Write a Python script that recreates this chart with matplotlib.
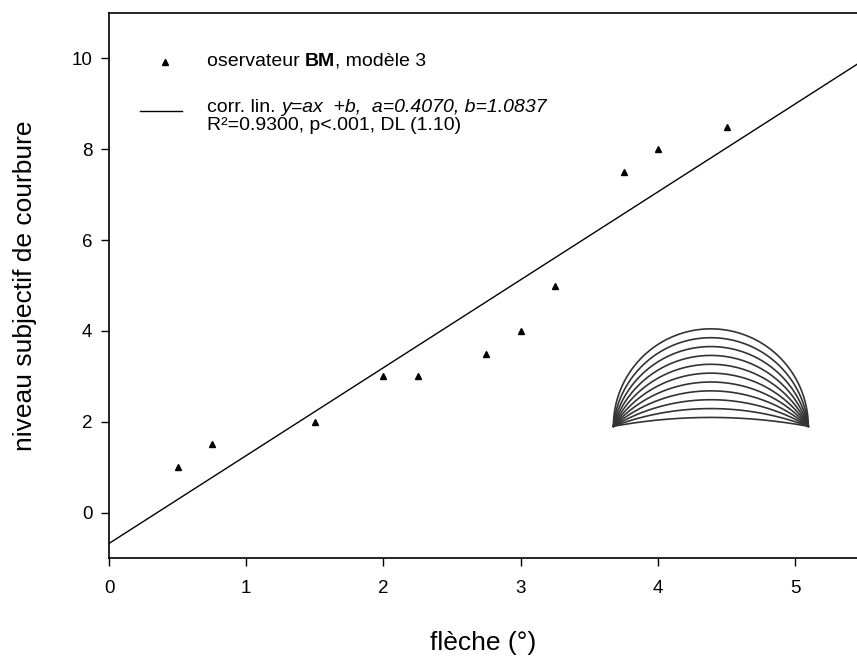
import numpy as np
import matplotlib
matplotlib.use("Agg")
import matplotlib.pyplot as plt

plt.rcParams['font.family'] = ['Liberation Sans', 'DejaVu Sans']

# donnees
fleche = [0.5, 0.75, 1.5, 2.0, 2.25, 2.75, 3.0, 3.25, 3.75, 4.0, 4.5]
niveau = [1.0, 1.5, 2.0, 3.0, 3.0, 3.5, 4.0, 5.0, 7.5, 8.0, 8.5]
droite_x = [0.0, 5.45]
droite_y = [-0.68, 9.87]
xticks = [0, 1, 2, 3, 4, 5]
yticks = [0, 2, 4, 6, 8, 10]
n_arcs = 11

fig = plt.figure(figsize=(8.57, 6.60), dpi=100)
ax = fig.add_axes([109 / 857, 1 - 558 / 660, 1 - 109 / 857, (558 - 13) / 660])
ax.set_xlim(0, 5.45)
ax.set_ylim(-1, 11)

ax.plot(droite_x, droite_y, color="black", lw=1.0)
ax.plot(fleche, niveau, linestyle="none", marker="^", color="black", markersize=5)

ax.set_xticks(xticks)
ax.set_yticks(yticks)
ax.tick_params(direction="out", length=6, width=1, labelsize=13.5)
ax.tick_params(axis="x", pad=9.5)
ax.tick_params(axis="y", pad=6)
ax.spines["right"].set_visible(False)
for s in ["left", "bottom", "top"]:
    ax.spines[s].set_linewidth(1.2)

ax.set_xlabel("flèche (°)", fontsize=19)
ax.set_ylabel("niveau subjectif de courbure", fontsize=19)
ax.xaxis.set_label_coords(0.5, (558 - 643) / 545)
ax.xaxis.label.set_verticalalignment("center")
ax.yaxis.set_label_coords((25 - 109) / 748, 0.5)
ax.yaxis.label.set_verticalalignment("center")

# petits arcs (dessin du stimulus)
x0, x1, yb = 3.675, 5.095, 1.90
c = (x1 - x0) / 2
xc = (x0 + x1) / 2
bb = ax.get_position()
px_x = bb.width * 857 / 5.45
px_y = bb.height * 660 / 12.0
ratio = px_x / px_y
for k in range(1, n_arcs + 1):
    s = k / n_arcs
    R = (1 + s ** 2) / (2 * s)
    t0 = np.arcsin(1 / R)
    t = np.linspace(-t0, t0, 200)
    u = R * np.sin(t)
    v = (s - R) + R * np.cos(t)
    ax.plot(xc + u * c, yb + v * c * ratio, color="#333333", lw=1.2)

# legende
def ypix(p):
    return 11 - (p - 13) / 545 * 12

fs = 14
ax.plot([0.41], [ypix(62)], linestyle="none", marker="^", color="black", markersize=5)
t1 = ax.text(0.713, ypix(61.5), "oservateur ", fontsize=fs, va="center")
t2 = ax.annotate("BM", xy=(1, 0), xycoords=t1, va="bottom", fontsize=fs, fontweight="bold")
ax.annotate(", modèle 3", xy=(1, 0), xycoords=t2, va="bottom", fontsize=fs)

ax.plot([0.226, 0.532], [ypix(111), ypix(111)], color="black", lw=1.0)
t3 = ax.text(0.713, ypix(107), "corr. lin. ", fontsize=fs, va="center")
ax.annotate("y=ax  +b,  a=0.4070, b=1.0837", xy=(1, 0), xycoords=t3, va="bottom",
            fontsize=fs, fontstyle="italic")
ax.text(0.713, ypix(125), "R²=0.9300, p<.001, DL (1.10)", fontsize=fs, va="center")

fig.savefig("out.png", dpi=100)
